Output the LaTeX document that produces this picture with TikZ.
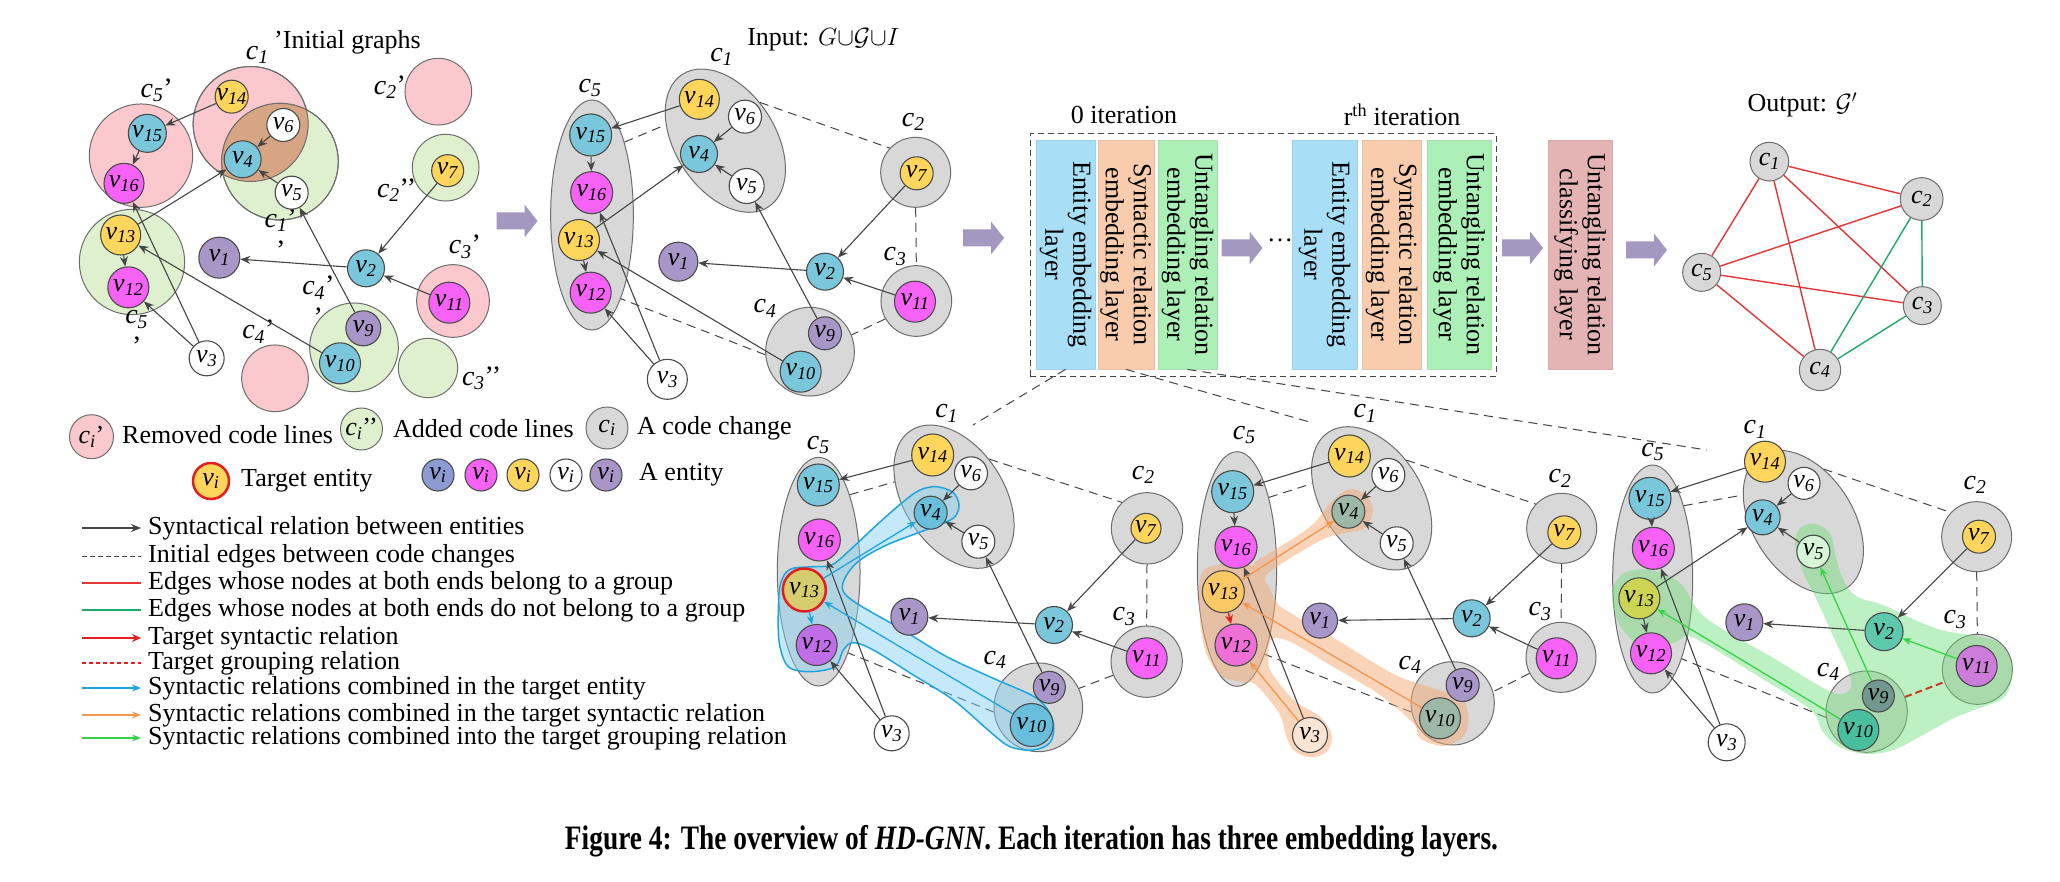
\documentclass[tikz,border=0pt]{standalone}
\usepackage{fontspec}
\setmainfont{Liberation Serif}
\usetikzlibrary{arrows.meta,shapes.geometric}

\definecolor{edgec}{RGB}{70,70,70}
\definecolor{ndraw}{RGB}{75,75,75}
\definecolor{nblue}{RGB}{122,198,218}
\definecolor{nmag}{RGB}{246,98,246}
\definecolor{nyel}{RGB}{255,213,92}
\definecolor{npur}{RGB}{168,150,200}
\definecolor{nbv}{RGB}{140,155,210}
\definecolor{cgrayf}{RGB}{216,216,216}
\definecolor{cdraw}{RGB}{110,110,110}
\definecolor{pinkf}{RGB}{250,200,205}
\definecolor{greenf}{RGB}{222,240,206}
\definecolor{lensf}{RGB}{214,166,132}
\definecolor{boxblue}{RGB}{168,222,246}
\definecolor{boxorange}{RGB}{248,204,172}
\definecolor{boxgreen}{RGB}{172,240,184}
\definecolor{boxpink}{RGB}{228,180,180}
\definecolor{arrpur}{RGB}{162,152,192}
\definecolor{hlcyan}{RGB}{30,165,222}
\definecolor{hlcyanf}{RGB}{130,208,242}
\definecolor{hlorange}{RGB}{245,150,80}
\definecolor{hlorangef}{RGB}{245,170,115}
\definecolor{hlgreen}{RGB}{55,210,70}
\definecolor{hlgreenf}{RGB}{110,222,120}
\definecolor{tred}{RGB}{228,30,30}
\definecolor{gred}{RGB}{225,55,55}
\definecolor{ggreen}{RGB}{30,170,105}
\definecolor{tdash}{RGB}{200,60,30}
% tinted nodes
\definecolor{aOlive}{RGB}{214,206,110}
\definecolor{aBlue}{RGB}{105,190,220}
\definecolor{aViol}{RGB}{192,110,232}
\definecolor{bYel}{RGB}{250,200,100}
\definecolor{bMag}{RGB}{238,112,214}
\definecolor{bGray}{RGB}{158,184,168}
\definecolor{bPeach}{RGB}{250,228,212}
\definecolor{cOlive}{RGB}{204,212,84}
\definecolor{cLight}{RGB}{215,245,215}
\definecolor{cTeal}{RGB}{92,200,172}
\definecolor{cPur}{RGB}{204,124,218}
\definecolor{cDark}{RGB}{112,152,142}
\definecolor{cTeal2}{RGB}{72,192,160}

\newcommand{\myv}[1]{\textit{v}\textsubscript{\textit{#1}}}
\newcommand{\myc}[1]{\textit{c}\textsubscript{\textit{#1}}}
\newcommand{\vnd}[6]{\node[vn, fill=#5, minimum size=#4pt, label={[vlab]center:\myv{#6}}] (#1) at (#2,#3) {};}

\tikzset{
  vn/.style={circle, draw=ndraw, line width=1.1pt, inner sep=0pt},
  vlab/.style={font=\fontsize{26}{28}\selectfont, inner sep=0pt, text=black},
  cg/.style={circle, draw=cdraw, fill=cgrayf, line width=1pt, inner sep=0pt},
  cp/.style={circle, draw=cdraw, fill=pinkf, line width=1pt, inner sep=0pt},
  cgr/.style={circle, draw=cdraw, fill=greenf, line width=1pt, inner sep=0pt},
  ce/.style={ellipse, draw=cdraw, fill=cgrayf, line width=1pt, inner sep=0pt},
  c1e/.style={ce, minimum width=158pt, minimum height=100pt, rotate=-57},
  clab/.style={font=\fontsize{28}{30}\selectfont, inner sep=0pt},
  clab2/.style={font=\fontsize{28}{32}\selectfont, inner sep=0pt, align=center},
  txt/.style={font=\fontsize{26}{28}\selectfont, inner sep=0pt},
  arr/.style={draw=edgec, line width=1.1pt, -{Stealth[length=10pt,width=8pt]}},
  arrC/.style={draw=hlcyan, line width=1.3pt, -{Stealth[length=9pt,width=7pt]}},
  arrO/.style={draw=hlorange, line width=1.3pt, -{Stealth[length=9pt,width=7pt]}},
  arrG/.style={draw=hlgreen, line width=1.3pt, -{Stealth[length=9pt,width=7pt]}},
  arrR/.style={draw=tred, line width=1.5pt, -{Stealth[length=9pt,width=8pt]}},
  dsh/.style={draw=edgec, line width=1pt, dash pattern=on 9pt off 6pt},
  tdsh/.style={draw=tdash, line width=2pt, dash pattern=on 7pt off 4pt},
  lbox/.style={rotate=-90, minimum width=229pt, inner sep=0pt, align=center, line width=0.8pt, font=\fontsize{26}{28}\selectfont},
  parrow/.pic={\fill[arrpur] (-20.5,-8.5) -- (7.5,-8.5) -- (7.5,-16.5) -- (20.5,0) -- (7.5,16.5) -- (7.5,8.5) -- (-20.5,8.5) -- cycle;},
  outR/.style={draw=gred, line width=1.4pt},
  outG/.style={draw=ggreen, line width=1.4pt},
}

\begin{document}
\begin{tikzpicture}[x=1pt,y=-1pt]
\fill[white] (0,0) rectangle (2060,882);
\useasboundingbox (0,0) rectangle (2060,882);

%================ Panel 1: initial graphs ================
\begin{scope}[x=0.33333pt,y=-0.33333pt]
\node[cp, minimum size=115pt] (a1p) at (752,372) {};
\node[cp, minimum size=103.4pt] (a5p) at (423,467) {};
\node[cgr, minimum size=116.6pt] (a1g) at (840,485) {};
\begin{scope}
\clip (752,372) circle [radius=57.5pt];
\fill[lensf] (840,485) circle [radius=58.3pt];
\end{scope}
\draw[cdraw, line width=1pt] (752,372) circle [radius=57.5pt] (840,485) circle [radius=58.3pt];
\node[cp, minimum size=66.7pt] (a2p) at (1315,275) {};
\node[cgr, minimum size=66.7pt] (a2g) at (1337,503) {};
\node[cp, minimum size=72.7pt] (a3p) at (1359,903) {};
\node[cgr, minimum size=59.3pt] (a3g) at (1284,1104) {};
\node[cp, minimum size=66.7pt] (a4p) at (825,1135) {};
\node[cgr, minimum size=88.7pt] (a4g) at (1062,1042) {};
\node[cgr, minimum size=105.3pt] (a5g) at (396,786) {};

\node[clab] at (772,165) {\myc{1}};
\node[txt, anchor=west] at (822,128) {’Initial graphs};
\node[clab] at (470,270) {\myc{5}’};
\node[clab] at (1170,262) {\myc{2}’};
\node[clab] at (1190,570) {\myc{2}’’};
\node[clab2] at (842,702) {\myc{1}’\\’};
\node[clab] at (1395,740) {\myc{3}’};
\node[clab2] at (955,905) {\myc{4}’\\’};
\node[clab] at (775,995) {\myc{4}’};
\node[clab2] at (410,1000) {\myc{5}\\’};
\node[clab] at (1445,1135) {\myc{3}’’};

\vnd{a14}{695}{290}{33}{nyel}{14}
\vnd{a15}{442}{400}{38}{nblue}{15}
\vnd{a16}{372}{550}{40}{nmag}{16}
\vnd{a6}{850}{375}{33}{white}{6}
\vnd{a4}{728}{478}{37}{nblue}{4}
\vnd{a5}{875}{578}{33}{white}{5}
\vnd{a13}{362}{705}{40}{nyel}{13}
\vnd{a12}{385}{862}{41}{nmag}{12}
\vnd{a1}{658}{773}{41}{npur}{1}
\vnd{a2}{1098}{805}{37}{nblue}{2}
\vnd{a7}{1343}{512}{32}{nyel}{7}
\vnd{a11}{1348}{908}{41}{nmag}{11}
\vnd{a9}{1090}{985}{35}{npur}{9}
\vnd{a10}{1020}{1090}{41}{nblue}{10}
\vnd{a3}{620}{1075}{35}{white}{3}
\path (a14) edge[arr] (a15) (a6) edge[arr] (a4) (a5) edge[arr] (a4)
  (a15) edge[arr] (a16) (a13) edge[arr] (a4) (a13) edge[arr] (a12)
  (a3) edge[arr] (a16) (a3) edge[arr] (a12) (a10) edge[arr] (a13)
  (a2) edge[arr] (a1) (a7) edge[arr] (a2) (a11) edge[arr] (a2) (a9) edge[arr] (a5);
\end{scope}

%================ Panel 2: input ================
\begin{scope}[shift={(500,0)},x=0.33333pt,y=-0.33333pt]
\node[txt] at (970,120) {Input: $G{\cup}\mathcal{G}{\cup}I$};
\node[ce, minimum width=82.7pt, minimum height=230pt] (b5c) at (276,645) {};
\node[c1e] (b1c) at (676,422) {};
\node[cg, minimum size=70pt] (b2c) at (1247,517) {};
\node[cg, minimum size=70.7pt] (b3c) at (1249,903) {};
\node[cg, minimum size=88.7pt] (b4c) at (930,1055) {};
\node[clab] at (270,265) {\myc{5}};
\node[clab] at (665,170) {\myc{1}};
\node[clab] at (1240,365) {\myc{2}};
\node[clab] at (1185,770) {\myc{3}};
\node[clab] at (795,925) {\myc{4}};
\draw[dsh] (b5c.66) -- (b1c.222);
\draw[dsh] (b1c.105) -- (b2c.137);
\draw[dsh] (b2c.270) -- (b3c.90);
\draw[dsh] (b3c.210) -- (b4c.22);
\draw[dsh] (b4c.184) -- (b5c.289);
\vnd{b15}{272}{405}{42}{nblue}{15}
\vnd{b16}{275}{578}{42}{nmag}{16}
\vnd{b13}{237}{720}{41}{nyel}{13}
\vnd{b12}{272}{878}{41}{nmag}{12}
\vnd{b14}{598}{298}{40}{nyel}{14}
\vnd{b6}{735}{350}{33}{white}{6}
\vnd{b4}{597}{462}{37}{nblue}{4}
\vnd{b5}{740}{558}{35}{white}{5}
\vnd{b7}{1250}{520}{33}{nyel}{7}
\vnd{b11}{1245}{905}{41}{nmag}{11}
\vnd{b9}{975}{1000}{33}{npur}{9}
\vnd{b10}{902}{1115}{41}{nblue}{10}
\vnd{b2}{975}{815}{37}{nblue}{2}
\vnd{b1}{535}{785}{39}{npur}{1}
\vnd{b3}{502}{1138}{40}{white}{3}
\path (b14) edge[arr] (b15) (b6) edge[arr] (b4) (b5) edge[arr] (b4)
  (b15) edge[arr] (b16) (b13) edge[arr] (b4) (b13) edge[arr] (b12)
  (b3) edge[arr] (b16) (b3) edge[arr] (b12) (b10) edge[arr] (b13)
  (b2) edge[arr] (b1) (b7) edge[arr] (b2) (b11) edge[arr] (b2) (b9) edge[arr] (b5);
\end{scope}

%================ purple arrows ================
\pic at (517,221) {parrow};
\pic at (983.5,238) {parrow};
\pic at (1242,248) {parrow};
\pic at (1522.5,248) {parrow};
\pic at (1646.5,250) {parrow};

%================ iteration block ================
\node[txt] at (1124,115) {0 iteration};
\node[txt] at (1402,115) {r\textsuperscript{th} iteration};
\node[draw=edgec, dash pattern=on 6pt off 4pt, line width=1pt, minimum width=466pt, minimum height=242pt, inner sep=0pt] (blk) at (1263,255) {};
\node[lbox, fill=boxblue, draw=boxblue!85!gray, minimum height=59pt] (eb1) at (1065.5,254.5) {Entity embedding\\layer};
\node[lbox, fill=boxorange, draw=boxorange!85!gray, minimum height=56pt] (sb1) at (1126,254.5) {Syntactic relation\\embedding layer};
\node[lbox, fill=boxgreen, draw=boxgreen!85!gray, minimum height=59pt] (ub1) at (1187.5,254.5) {Untangling relation\\embedding layer};
\node[txt] (dots) at (1280,240) {…};
\node[lbox, fill=boxblue, draw=boxblue!85!gray, minimum height=65pt] (eb2) at (1324.5,254.5) {Entity embedding\\layer};
\node[lbox, fill=boxorange, draw=boxorange!85!gray, minimum height=59pt] (sb2) at (1391.5,254.5) {Syntactic relation\\embedding layer};
\node[lbox, fill=boxgreen, draw=boxgreen!85!gray, minimum height=64pt] (ub2) at (1459,254.5) {Untangling relation\\embedding layer};
\node[lbox, fill=boxpink, draw=boxpink!85!gray, minimum height=64pt] (cls) at (1580,254.5) {Untangling relation\\classifying layer};

\coordinate (t1) at (973,425);
\coordinate (t2) at (1313,423);
\coordinate (t3) at (1707,450);
\draw[dsh] (eb1.east) -- (t1);
\draw[dsh] (sb1.east) -- (t2);
\draw[dsh] (ub1.east) -- (t3);

%================ Output graph ================
\begin{scope}[shift={(1560,40)},x=0.33333pt,y=-0.33333pt]
\node[txt] at (727,195) {Output: $\mathcal{G}'$};
\node[cg, minimum size=38.7pt, label={[vlab]center:\myc{1}}] (o1) at (628,365) {};
\node[cg, minimum size=42.7pt, label={[vlab]center:\myc{2}}] (o2) at (1085,477) {};
\node[cg, minimum size=38pt, label={[vlab]center:\myc{3}}] (o3) at (1087,797) {};
\node[cg, minimum size=41.3pt, label={[vlab]center:\myc{4}}] (o4) at (780,990) {};
\node[cg, minimum size=38pt, label={[vlab]center:\myc{5}}] (o5) at (425,697) {};
\draw[outR] (o1) -- (o2);
\draw[outR] (o1) -- (o5);
\draw[outR] (o1) -- (o4);
\draw[outR] (o1) -- (o3);
\draw[outR] (o5) -- (o2);
\draw[outR] (o5) -- (o3);
\draw[outR] (o5) -- (o4);
\draw[outG] (o2) -- (o3);
\draw[outG] (o2) -- (o4);
\draw[outG] (o3) -- (o4);
\end{scope}

%================ Legend ================
\node[cp, minimum size=44pt, label={[vlab]center:\myc{i}’}] (lg1) at (91.5,436.7) {};
\node[txt, anchor=west] at (122,435) {Removed code lines};
\node[cgr, minimum size=42pt, label={[vlab]center:\myc{i}’’}] (lg2) at (361.5,429) {};
\node[txt, anchor=west] at (393,429) {Added code lines};
\node[cg, minimum size=42pt, label={[vlab]center:\myc{i}}] (lg3) at (607,428) {};
\node[txt, anchor=west] at (637,428) {A code change};
\node[vn, fill=nyel, draw=tred, line width=2.5pt, minimum size=36pt, label={[vlab]center:\myv{i}}] (lg4) at (211,481) {};
\node[txt, anchor=west] at (241,481) {Target entity};
\vnd{le1}{438}{475}{32}{nbv}{i}
\vnd{le2}{481}{475}{32}{nmag}{i}
\vnd{le3}{523}{475}{32}{nyel}{i}
\vnd{le4}{566}{475}{32}{white}{i}
\vnd{le5}{606}{475}{32}{npur}{i}
\node[txt, anchor=west] at (639,475) {A entity};

\draw[arr] (82,528) -- (141,528);
\node[txt, anchor=west] at (148,528) {Syntactical relation between entities};
\draw[draw=edgec, line width=1pt, dash pattern=on 5pt off 3pt] (82,556) -- (141,556);
\node[txt, anchor=west] at (148,556) {Initial edges between code changes};
\draw[outR] (82,583) -- (141,583);
\node[txt, anchor=west] at (148,583) {Edges whose nodes at both ends belong to a group};
\draw[outG] (82,610) -- (141,610);
\node[txt, anchor=west] at (148,610) {Edges whose nodes at both ends do not belong to a group};
\draw[arrR] (82,638) -- (141,638);
\node[txt, anchor=west] at (148,638) {Target syntactic relation};
\draw[draw=tred, line width=1.5pt, dash pattern=on 4pt off 3pt] (82,663) -- (141,663);
\node[txt, anchor=west] at (148,663) {Target grouping relation};
\draw[arrC] (82,688) -- (141,688);
\node[txt, anchor=west] at (148,688) {Syntactic relations combined in the target entity};
\draw[arrO] (82,715) -- (141,715);
\node[txt, anchor=west] at (148,715) {Syntactic relations combined in the target syntactic relation};
\draw[arrG] (82,738) -- (141,738);
\node[txt, anchor=west] at (148,738) {Syntactic relations combined into the target grouping relation};

%================ Panel A (target entity) ================
\begin{scope}[shift={(760,370)},x=0.33333pt,y=-0.33333pt]
\node[ce, minimum width=82.7pt, minimum height=228.7pt] (p5c) at (176,605) {};
\node[c1e] (p1c) at (582,380) {};
\node[cg, minimum size=71.3pt] (p2c) at (1161,475) {};
\node[cg, minimum size=71.3pt] (p3c) at (1160,875) {};
\node[cg, minimum size=88.7pt] (p4c) at (835,1012) {};
\node[clab] at (175,225) {\myc{5}};
\node[clab] at (560,130) {\myc{1}};
\node[clab] at (1150,315) {\myc{2}};
\node[clab] at (1092,740) {\myc{3}};
\node[clab] at (705,870) {\myc{4}};
\draw[dsh] (p5c.68) -- (p1c.223);
\draw[dsh] (p1c.104) -- (p2c.134);
\draw[dsh] (p2c.270) -- (p3c.90);
\draw[dsh] (p3c.202) -- (p4c.25);
\draw[dsh] (p4c.186) -- (p5c.290);
\filldraw[draw=hlcyan, line width=1.5pt, fill=hlcyanf, fill opacity=0.45]
  plot[smooth cycle, tension=0.55] coordinates {(62,640) (90,598) (160,590) (215,585) (270,540) (350,465) (430,395) (480,360) (530,350) (580,368) (597,405) (585,440) (545,462) (470,490) (380,525) (300,570) (260,615) (248,660) (290,700) (420,775) (560,860) (700,925) (830,985) (878,1050) (872,1115) (820,1140) (750,1130) (690,1085) (580,990) (460,915) (340,840) (280,818) (250,840) (225,890) (150,905) (85,890) (58,820) (55,720)};
\vnd{p15}{175}{345}{42}{nblue}{15}
\vnd{p16}{178}{510}{42}{nmag}{16}
\node[vn, fill=aOlive, draw=tred, line width=2.5pt, minimum size=43pt, label={[vlab]center:\myv{13}}] (p13) at (133,660) {};
\vnd{p12}{170}{825}{41}{aViol}{12}
\vnd{p14}{518}{255}{42}{nyel}{14}
\vnd{p6}{633}{310}{33}{white}{6}
\vnd{p4}{512}{428}{33}{aBlue}{4}
\vnd{p5}{655}{515}{33}{white}{5}
\vnd{p7}{1158}{475}{30}{nyel}{7}
\vnd{p11}{1160}{865}{41}{nmag}{11}
\vnd{p9}{868}{952}{32}{npur}{9}
\vnd{p10}{815}{1065}{43}{aBlue}{10}
\vnd{p2}{882}{765}{37}{nblue}{2}
\vnd{p1}{448}{740}{37}{npur}{1}
\vnd{p3}{395}{1090}{35}{white}{3}
\path (p14) edge[arr] (p15) (p6) edge[arr] (p4) (p5) edge[arr] (p4)
  (p3) edge[arr] (p16) (p3) edge[arr] (p12)
  (p2) edge[arr] (p1) (p7) edge[arr] (p2) (p11) edge[arr] (p2) (p9) edge[arr] (p5);
\path (p13) edge[arrC] (p4) (p10) edge[arrC] (p13) (p13) edge[arrC] (p12);
\end{scope}

%================ Panel B (target syntactic relation) ================
\begin{scope}[shift={(1180,370)},x=0.33333pt,y=-0.33333pt]
\node[ce, minimum width=79.3pt, minimum height=234.7pt] (q5c) at (171,597) {};
\node[c1e] (q1c) at (575,385) {};
\node[cg, minimum size=70pt] (q2c) at (1145,475) {};
\node[cg, minimum size=70pt] (q3c) at (1143,862) {};
\node[cg, minimum size=83.3pt] (q4c) at (818,1000) {};
\node[clab] at (193,195) {\myc{5}};
\node[clab] at (555,130) {\myc{1}};
\node[clab] at (1140,325) {\myc{2}};
\node[clab] at (1080,725) {\myc{3}};
\node[clab] at (690,885) {\myc{4}};
\draw[dsh] (q5c.66) -- (q1c.223);
\draw[dsh] (q1c.105) -- (q2c.137);
\draw[dsh] (q2c.270) -- (q3c.90);
\draw[dsh] (q3c.207) -- (q4c.16);
\draw[dsh] (q4c.192) -- (q5c.288);
\fill[hlorangef, fill opacity=0.5]
  plot[smooth cycle, tension=0.55] coordinates {(68,605) (150,580) (215,585) (236,569) (386,474) (450,400) (505,358) (560,375) (578,425) (552,475) (480,492) (413,516) (263,611) (270,655) (290,695) (320,722) (480,815) (640,912) (760,955) (845,985) (865,1045) (850,1100) (790,1128) (720,1105) (700,1060) (600,975) (450,885) (330,815) (275,808) (265,860) (273,906) (343,991) (420,1040) (455,1095) (440,1145) (390,1162) (340,1140) (318,1095) (297,1029) (227,944) (190,937) (120,915) (75,840) (58,720)};
\vnd{q15}{158}{365}{42}{nblue}{15}
\vnd{q16}{168}{532}{42}{nmag}{16}
\vnd{q13}{130}{665}{42}{bYel}{13}
\vnd{q12}{168}{825}{42}{bMag}{12}
\vnd{q14}{508}{258}{42}{nyel}{14}
\vnd{q6}{625}{315}{33}{white}{6}
\vnd{q4}{505}{425}{33}{bGray}{4}
\vnd{q5}{650}{520}{33}{white}{5}
\vnd{q7}{1153}{487}{33}{nyel}{7}
\vnd{q11}{1130}{865}{41}{nmag}{11}
\vnd{q9}{848}{945}{33}{npur}{9}
\vnd{q10}{780}{1045}{41}{bGray}{10}
\vnd{q2}{875}{745}{37}{nblue}{2}
\vnd{q1}{420}{752}{35}{npur}{1}
\vnd{q3}{390}{1095}{35}{bPeach}{3}
\path (q14) edge[arr] (q15) (q6) edge[arr] (q4) (q5) edge[arr] (q4)
  (q15) edge[arr] (q16) (q3) edge[arr] (q16)
  (q2) edge[arr] (q1) (q7) edge[arr] (q2) (q11) edge[arr] (q2) (q9) edge[arr] (q5);
\path (q13) edge[arrO] (q4) (q10) edge[arrO] (q13) (q3) edge[arrO] (q12);
\path (q13) edge[arrR] (q12);
\end{scope}

%================ Panel C (target grouping relation) ================
\begin{scope}[shift={(1600,370)},x=0.33333pt,y=-0.33333pt]
\node[ce, minimum width=80pt, minimum height=228pt] (r5c) at (158,627) {};
\node[c1e] (r1c) at (610,456) {};
\node[cg, minimum size=70pt] (r2c) at (1130,500) {};
\node[cg, minimum size=70pt] (r3c) at (1132,898) {};
\node[cg, minimum size=81.3pt] (r4c) at (800,1025) {};
\node[clab] at (158,245) {\myc{5}};
\node[clab] at (465,178) {\myc{1}};
\node[clab] at (1125,345) {\myc{2}};
\node[clab] at (1065,748) {\myc{3}};
\node[clab] at (685,905) {\myc{4}};
\draw[dsh] (r5c.67) -- (r1c.213);
\draw[dsh] (r1c.126) -- (r2c.137);
\draw[dsh] (r2c.270) -- (r3c.90);
\draw[dsh] (r4c.188) -- (r5c.290);
\fill[hlgreenf, fill opacity=0.45]
  plot[smooth cycle, tension=0.55] coordinates {(40,650) (70,610) (130,598) (200,615) (250,650) (318,744) (518,863) (668,953) (720,972) (752,955) (745,900) (700,800) (655,700) (605,595) (585,515) (605,470) (650,462) (692,495) (708,565) (735,640) (775,682) (850,705) (950,752) (1030,782) (1110,795) (1190,815) (1232,870) (1235,930) (1210,985) (1150,1010) (1060,1045) (960,1100) (880,1140) (800,1152) (720,1132) (668,1085) (632,1020) (482,923) (282,804) (230,815) (170,832) (110,820) (62,770) (38,700)};
\draw[tdsh] (r4c.21) -- (r3c.201);
\vnd{r15}{150}{385}{42}{nblue}{15}
\vnd{r16}{160}{535}{42}{nmag}{16}
\vnd{r13}{118}{685}{41}{cOlive}{13}
\vnd{r12}{153}{850}{41}{nmag}{12}
\vnd{r14}{495}{275}{41}{nyel}{14}
\vnd{r6}{612}{340}{32}{white}{6}
\vnd{r4}{488}{442}{35}{nblue}{4}
\vnd{r5}{640}{545}{33}{cLight}{5}
\vnd{r7}{1137}{500}{33}{nyel}{7}
\vnd{r11}{1130}{888}{41}{cPur}{11}
\vnd{r9}{835}{978}{32}{cDark}{9}
\vnd{r10}{775}{1080}{41}{cTeal2}{10}
\vnd{r2}{852}{785}{38}{cTeal}{2}
\vnd{r1}{433}{757}{37}{npur}{1}
\vnd{r3}{380}{1117}{37}{white}{3}
\path (r14) edge[arr] (r15) (r6) edge[arr] (r4) (r5) edge[arr] (r4)
  (r15) edge[arr] (r16) (r13) edge[arr] (r4) (r13) edge[arr] (r12)
  (r3) edge[arr] (r16) (r3) edge[arr] (r12)
  (r2) edge[arr] (r1) (r7) edge[arr] (r2);
\path (r10) edge[arrG] (r13) (r9) edge[arrG] (r5) (r11) edge[arrG] (r2);
\end{scope}

%================ Caption ================
\node[inner sep=0pt] (cap) at (1031.5,841) {\scalebox{1}[1.25]{\resizebox{933pt}{!}{\bfseries Figure 4: The overview of \textit{HD-GNN}. Each iteration has three embedding layers.}}};
\end{tikzpicture}
\end{document}
